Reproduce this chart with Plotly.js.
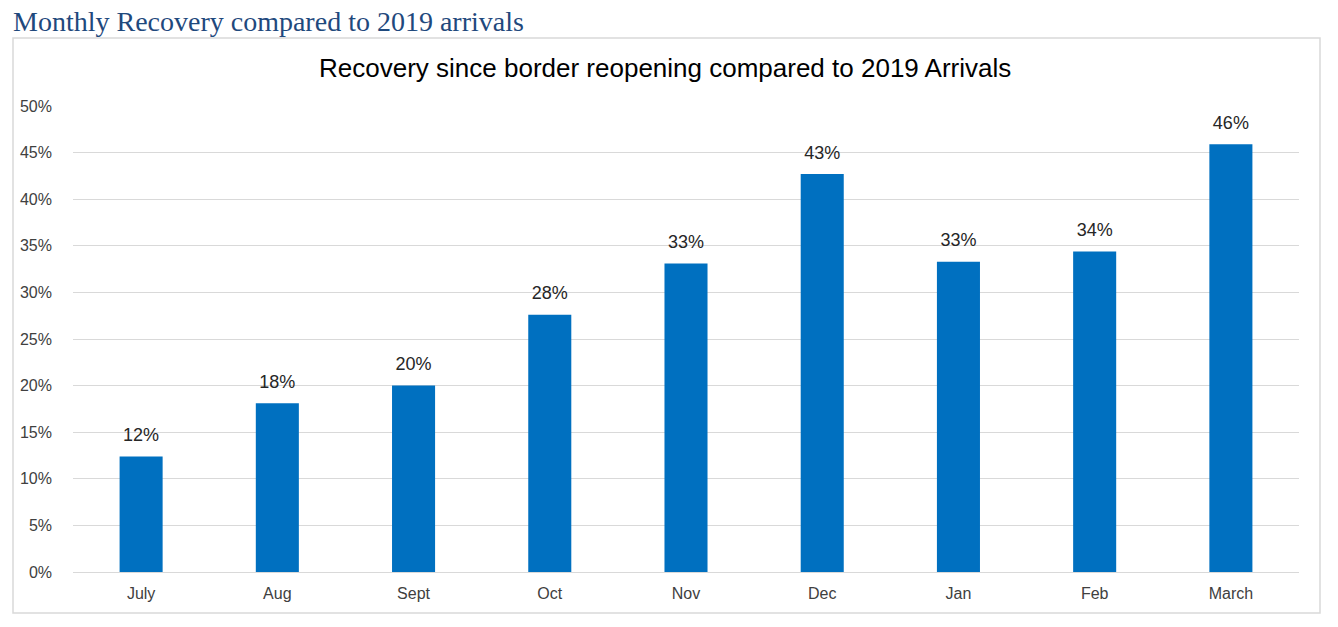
<!DOCTYPE html>
<html>
<head>
<meta charset="utf-8">
<script src="https://cdn.plot.ly/plotly-3.0.1.min.js"></script>
<style>html,body{margin:0;padding:0;background:#fff;}</style>
</head>
<body>
<div id="chart" style="width:1338px;height:627px;"></div>
<script>
const months = ["July","Aug","Sept","Oct","Nov","Dec","Jan","Feb","March"];
const recovery = [0.124, 0.181, 0.200, 0.276, 0.331, 0.427, 0.333, 0.344, 0.459];
const yTicks = [0,0.05,0.10,0.15,0.20,0.25,0.30,0.35,0.40,0.45,0.50];

const W = 1338, H = 627;
const L = 73, R = 1299, T = 106, B = 572;
const pw = R - L, ph = B - T;
const px = v => (v - L) / pw;
const py = v => (B - v) / ph;
const SANS = 'Liberation Sans, Arial, sans-serif';

const bars = {
  type: 'bar', x: months, y: recovery,
  marker: {color: '#0070C0'},
  hoverinfo: 'skip'
};
const labels = {
  type: 'scatter', mode: 'markers+text', x: months, y: recovery,
  marker: {size: 16, opacity: 0},
  texttemplate: '%{y:.0%}', textposition: 'top center',
  textfont: {family: SANS, size: 18, color: '#262626'},
  cliponaxis: false, hoverinfo: 'skip'
};

const layout = {
  width: W, height: H,
  margin: {l: L, r: W - R, t: T, b: H - B},
  paper_bgcolor: '#fff', plot_bgcolor: '#fff',
  bargap: 0.684,
  showlegend: false,
  title: {
    text: 'Monthly Recovery compared to 2019 arrivals',
    font: {family: 'Liberation Serif, Times New Roman, serif', size: 28, color: '#1F497D'},
    xref: 'container', yref: 'container', x: 13/W, xanchor: 'left', y: 1 - 21/H, yanchor: 'middle'
  },
  xaxis: {
    range: [-0.5, months.length - 0.5],
    tickfont: {family: SANS, size: 16, color: '#404040'},
    showline: false, ticks: '', ticklabelstandoff: 10, fixedrange: true
  },
  yaxis: {
    range: [0, 0.5], tickvals: yTicks, tickformat: '.0%',
    tickfont: {family: SANS, size: 16, color: '#404040'},
    showgrid: true, gridcolor: '#D9D9D9', gridwidth: 1,
    zeroline: true, zerolinecolor: '#D9D9D9', zerolinewidth: 1,
    ticks: '', ticklabelstandoff: 20, automargin: false, fixedrange: true
  },
  annotations: [{
    text: 'Recovery since border reopening compared to 2019 Arrivals',
    xref: 'paper', yref: 'paper', x: px(665), y: py(68),
    xanchor: 'center', yanchor: 'middle', showarrow: false,
    font: {family: SANS, size: 26, color: '#000'}
  }],
  shapes: [{
    type: 'rect', xref: 'paper', yref: 'paper',
    x0: px(13), x1: px(1320), y0: py(613), y1: py(38),
    line: {color: '#D9D9D9', width: 1.5}, fillcolor: 'rgba(0,0,0,0)', layer: 'below'
  }]
};

Plotly.newPlot('chart', [bars, labels], layout, {displayModeBar: false, staticPlot: true});
</script>
</body>
</html>
